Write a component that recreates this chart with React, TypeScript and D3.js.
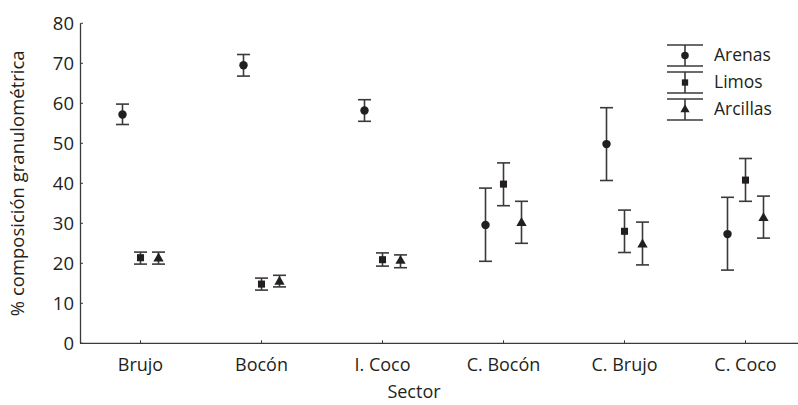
import * as d3 from 'd3';

const categories = ['Brujo', 'Bocón', 'I. Coco', 'C. Bocón', 'C. Brujo', 'C. Coco'];
const seriesNames = ['Arenas', 'Limos', 'Arcillas'];

const arenasMean = [57.2, 69.5, 58.2, 29.6, 49.8, 27.3];
const arenasLow = [54.7, 66.8, 55.5, 20.5, 40.7, 18.3];
const arenasHigh = [59.8, 72.2, 60.9, 38.8, 58.9, 36.5];

const limosMean = [21.4, 14.8, 20.9, 39.8, 28.0, 40.8];
const limosLow = [19.8, 13.3, 19.3, 34.4, 22.7, 35.5];
const limosHigh = [22.8, 16.3, 22.6, 45.1, 33.3, 46.2];

const arcillasMean = [21.2, 15.4, 20.6, 30.1, 24.7, 31.3];
const arcillasLow = [19.8, 14.1, 18.9, 25.0, 19.6, 26.3];
const arcillasHigh = [22.8, 17.0, 22.1, 35.5, 30.3, 36.8];

const yTicks = [0, 10, 20, 30, 40, 50, 60, 70, 80];

const W = 798;
const H = 405;
const FONT = '"Open Sans", sans-serif';
const INK = '#231f20';
const LINE = '#3a3a3a';

const series = [
  { name: seriesNames[0], mean: arenasMean, low: arenasLow, high: arenasHigh, shape: d3.symbolCircle, size: 56, dx: -18 },
  { name: seriesNames[1], mean: limosMean, low: limosLow, high: limosHigh, shape: d3.symbolSquare, size: 50, dx: 0 },
  { name: seriesNames[2], mean: arcillasMean, low: arcillasLow, high: arcillasHigh, shape: d3.symbolTriangle, size: 46, dx: 18 },
];

export default function App() {
  const x = d3.scaleBand<string>().domain(categories).range([80, 80 + 6 * 121]).padding(0);
  const y = d3.scaleLinear().domain([0, 80]).range([343.3, 23.3]);
  const cx = (c: string) => (x(c) as number) + x.bandwidth() / 2;
  const capW = 6.5;

  return (
    <svg width={W} height={H} style={{ position: 'fixed', left: 0, top: 0, background: '#fff' }}
      fontFamily={FONT}>
      {/* axes */}
      <line x1={80.5} x2={80.5} y1={y(80)} y2={y(0)} stroke={LINE} strokeWidth={1.3} />
      <line x1={80} x2={W} y1={y(0)} y2={y(0)} stroke={LINE} strokeWidth={1.3} />
      {yTicks.map((t) => (
        <g key={t}>
          <line x1={80.5} x2={83} y1={y(t)} y2={y(t)} stroke={LINE} strokeWidth={1} />
          <text x={74} y={y(t)} dy="0.36em" textAnchor="end" fontSize={18.5} fill={INK}>{t}</text>
        </g>
      ))}
      {categories.map((c) => (
        <g key={c}>
          <line x1={cx(c)} x2={cx(c)} y1={y(0)} y2={y(0) - 3} stroke={LINE} strokeWidth={1} />
          <text x={cx(c)} y={371} textAnchor="middle" fontSize={18} fill={INK}>{c}</text>
        </g>
      ))}
      <text x={414} y={398} textAnchor="middle" fontSize={18} fill={INK}>Sector</text>
      <text transform={`translate(24,${(y(0) + y(80)) / 2}) rotate(-90)`} textAnchor="middle"
        fontSize={18.5} fill={INK}>% composición granulométrica</text>

      {/* error bars + markers */}
      {series.map((s) => (
        <g key={s.name}>
          {categories.map((c, i) => {
            const px = cx(c) + s.dx;
            return (
              <g key={c}>
                <line x1={px} x2={px} y1={y(s.high[i])} y2={y(s.low[i])} stroke={LINE} strokeWidth={1.6} />
                <line x1={px - capW} x2={px + capW} y1={y(s.high[i])} y2={y(s.high[i])} stroke={LINE} strokeWidth={1.6} />
                <line x1={px - capW} x2={px + capW} y1={y(s.low[i])} y2={y(s.low[i])} stroke={LINE} strokeWidth={1.6} />
                <path d={d3.symbol().type(s.shape).size(s.size)() as string}
                  transform={`translate(${px},${y(s.mean[i])})`} fill={INK} />
              </g>
            );
          })}
        </g>
      ))}

      {/* legend */}
      {series.map((s, i) => {
        const top = 45 + i * 27;
        const bottom = top + 21;
        const mid = (top + bottom) / 2;
        return (
          <g key={s.name}>
            <line x1={685} x2={685} y1={top} y2={bottom} stroke={LINE} strokeWidth={1.6} />
            <line x1={667} x2={703} y1={top} y2={top} stroke={LINE} strokeWidth={1.6} />
            <line x1={667} x2={703} y1={bottom} y2={bottom} stroke={LINE} strokeWidth={1.6} />
            <path d={d3.symbol().type(s.shape).size(s.size * 0.8)() as string}
              transform={`translate(685,${mid})`} fill={INK} />
            <text x={714} y={mid - 1} dy="0.36em" fontSize={17.5} fill={INK}>{s.name}</text>
          </g>
        );
      })}
    </svg>
  );
}
